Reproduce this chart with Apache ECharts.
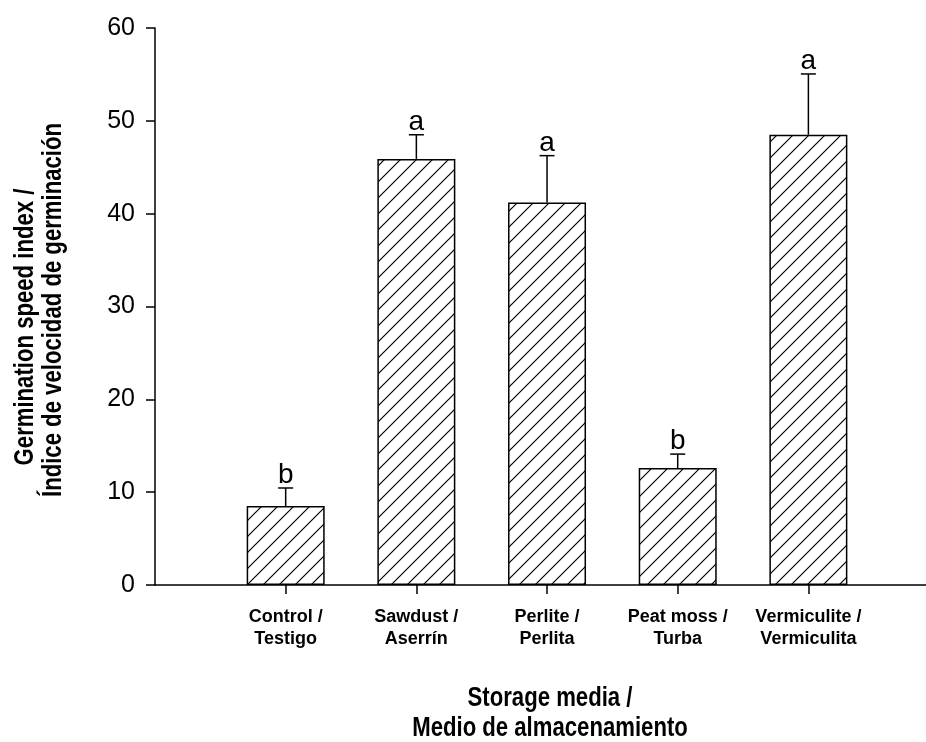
<!DOCTYPE html>
<html>
<head>
<meta charset="utf-8">
<script src="https://cdn.jsdelivr.net/npm/echarts@6/dist/echarts.min.js"></script>
<style>
html,body{margin:0;padding:0;background:#fff;}
#chart{width:926px;height:742px;}
</style>
</head>
<body>
<div id="chart"></div>
<script>
// ---- data ----
var categories = ['Control /\nTestigo', 'Sawdust /\nAserrín', 'Perlite /\nPerlita', 'Peat moss /\nTurba', 'Vermiculite /\nVermiculita'];
var means = [8.5, 45.9, 41.2, 12.6, 48.5];
var errors = [1.95, 2.6, 5.05, 1.5, 6.55];
var letters = ['b', 'a', 'a', 'b', 'a'];
var yTicks = [0, 10, 20, 30, 40, 50, 60];
var yTitle = ['Germination speed index /', 'Índice de velocidad de germinación'];
var xTitle = ['Storage media /', 'Medio de almacenamiento'];

// ---- hatch pattern ----
function makeHatch() {
  var c = document.createElement('canvas');
  c.width = 16; c.height = 16;
  var g = c.getContext('2d');
  g.fillStyle = '#fff';
  g.fillRect(0, 0, 16, 16);
  g.strokeStyle = '#000';
  g.lineWidth = 1.2;
  g.beginPath();
  g.moveTo(-2, 18); g.lineTo(18, -2);
  g.moveTo(-2, 2); g.lineTo(2, -2);
  g.moveTo(14, 18); g.lineTo(18, 14);
  g.stroke();
  return c;
}

var SANS = '"Liberation Sans", Arial, sans-serif';
var chart = echarts.init(document.getElementById('chart'), null, {renderer: 'canvas'});

var barData = means.map(function (v, i) { return [i, v]; });
var errData = means.map(function (v, i) { return [i, v, errors[i]]; });
var catIdx = categories.map(function (c, i) { return i; });

function titleText(txt, x, y, rot) {
  return {
    type: 'text', x: x, y: y, rotation: rot, scaleX: 0.82, scaleY: 1,
    style: {
      text: txt, font: 'bold 27px ' + SANS, fill: '#000',
      align: 'center', verticalAlign: 'middle', textAlign: 'center', textVerticalAlign: 'middle'
    }
  };
}

var option = {
  animation: false,
  backgroundColor: '#fff',
  grid: {left: 155, right: 0, top: 28, bottom: 157},
  xAxis: {
    type: 'value',
    min: -1,
    max: 4.9,
    splitLine: {show: false},
    axisLine: {show: true, onZero: false, lineStyle: {color: '#000', width: 1.5}},
    axisTick: {show: true, customValues: catIdx, length: 9, lineStyle: {color: '#000', width: 1.5}},
    axisLabel: {
      show: true,
      customValues: catIdx,
      formatter: function (v) { return categories[Math.round(v)] || ''; },
      fontFamily: SANS,
      fontWeight: 'bold',
      fontSize: 18,
      lineHeight: 22,
      color: '#000',
      margin: 21,
      align: 'center'
    }
  },
  yAxis: {
    type: 'value',
    min: yTicks[0],
    max: yTicks[yTicks.length - 1],
    interval: 10,
    splitLine: {show: false},
    axisLine: {show: true, onZero: false, lineStyle: {color: '#000', width: 1.5}},
    axisTick: {show: true, length: 9, lineStyle: {color: '#000', width: 1.5}},
    axisLabel: {
      fontFamily: SANS,
      fontSize: 25,
      color: '#000',
      margin: 20
    }
  },
  series: [
    {
      type: 'bar',
      data: barData,
      barWidth: 78,
      itemStyle: {
        color: {image: makeHatch(), repeat: 'repeat'},
        borderColor: '#000',
        borderWidth: 1.5
      },
      z: 2
    },
    {
      type: 'custom',
      data: errData,
      z: 3,
      renderItem: function (params, api) {
        var x = api.value(0), m = api.value(1), e = api.value(2);
        var p0 = api.coord([x, m]);
        var p1 = api.coord([x, m + e]);
        var style = {stroke: '#000', lineWidth: 1.5};
        return {
          type: 'group',
          children: [
            {type: 'line', shape: {x1: p0[0], y1: p0[1], x2: p1[0], y2: p1[1]}, style: style},
            {type: 'line', shape: {x1: p1[0] - 7.5, y1: p1[1], x2: p1[0] + 7.5, y2: p1[1]}, style: style},
            {type: 'text', x: p1[0], y: p1[1] - 12.5, style: {
              text: letters[params.dataIndex],
              font: '28px ' + SANS,
              fill: '#000',
              align: 'center', verticalAlign: 'middle',
              textAlign: 'center', textVerticalAlign: 'middle'
            }}
          ]
        };
      }
    }
  ],
  graphic: [
    titleText(yTitle[0], 26, 327, Math.PI / 2),
    titleText(yTitle[1], 54, 310, Math.PI / 2),
    titleText(xTitle[0], 550, 699, 0),
    titleText(xTitle[1], 550, 729, 0)
  ]
};
chart.setOption(option);
</script>
</body>
</html>
